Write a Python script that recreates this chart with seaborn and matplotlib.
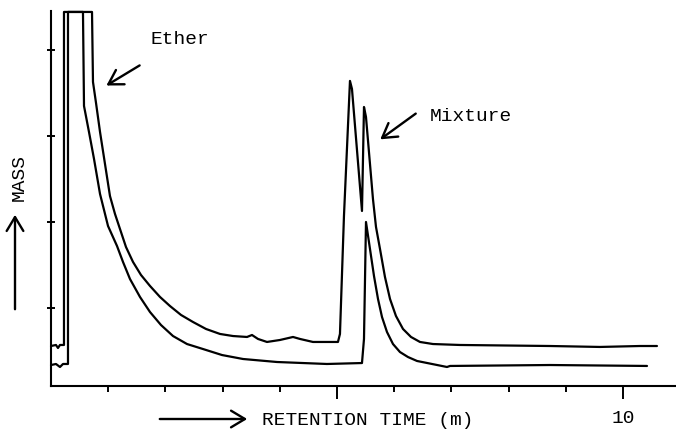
import numpy as np
import pandas as pd
import matplotlib
matplotlib.use("Agg")
import matplotlib.pyplot as plt
from matplotlib.ticker import FixedLocator
import seaborn as sns

# Chromatogram traces (time in minutes, mass in arbitrary units)
# upper trace and lower trace; the ether peak tops are clipped by the recorder
upper_time = [0.000, 0.087, 0.122, 0.157, 0.227, 0.227, 0.717, 0.734, 0.787, 0.857,
              0.944, 1.031, 1.119, 1.206, 1.311, 1.434, 1.573, 1.731, 1.906, 2.080,
              2.273, 2.483, 2.710, 2.955, 3.182, 3.427, 3.514, 3.619, 3.776, 4.003,
              4.231, 4.353, 4.580, 5.017, 5.052, 5.122, 5.227, 5.262, 5.437, 5.472,
              5.507, 5.629, 5.682, 5.752, 5.839, 5.927, 6.031, 6.154, 6.294, 6.451,
              6.678, 7.150, 8.724, 9.598, 10.297, 10.594]
upper_mass = [0.558, 0.570, 0.535, 0.570, 0.570, 4.442, 4.442, 3.628, 3.384, 3.047,
              2.674, 2.302, 2.093, 1.919, 1.709, 1.535, 1.384, 1.256, 1.128, 1.023,
              0.919, 0.837, 0.756, 0.698, 0.674, 0.663, 0.686, 0.640, 0.605, 0.628,
              0.663, 0.640, 0.605, 0.605, 0.698, 2.070, 3.640, 3.547, 2.128, 3.337,
              3.221, 2.267, 1.942, 1.686, 1.360, 1.105, 0.907, 0.756, 0.663, 0.605,
              0.581, 0.570, 0.558, 0.547, 0.558, 0.558]

lower_time = [0.000, 0.087, 0.157, 0.210, 0.297, 0.297, 0.559, 0.577, 0.664, 0.752,
              0.857, 0.997, 1.154, 1.259, 1.381, 1.556, 1.731, 1.923, 2.133, 2.378,
              2.657, 2.990, 3.357, 3.951, 4.825, 5.437, 5.472, 5.507, 5.577, 5.647,
              5.717, 5.787, 5.874, 5.979, 6.101, 6.241, 6.399, 6.923, 6.976, 8.724,
              10.420]
lower_mass = [0.337, 0.349, 0.314, 0.349, 0.349, 4.442, 4.442, 3.349, 3.047, 2.733,
              2.326, 1.953, 1.721, 1.535, 1.337, 1.128, 0.953, 0.802, 0.674, 0.581,
              0.523, 0.453, 0.407, 0.372, 0.349, 0.360, 0.640, 2.000, 1.686, 1.372,
              1.105, 0.895, 0.721, 0.581, 0.488, 0.430, 0.384, 0.314, 0.326, 0.337,
              0.326]

minor_ticks = [1, 2, 3, 4, 6, 7, 8, 9]
major_ticks = [5, 10]
major_labels = ["", "10"]
mass_ticks = [1, 2, 3, 4]

sns.set_theme(style="ticks")
plt.rcParams['font.family'] = ['Liberation Mono', 'DejaVu Sans Mono']
plt.rcParams['text.color'] = 'black'

fig = plt.figure(figsize=(6.76, 4.31), dpi=100)
ax = fig.add_axes([51 / 676, 44 / 431, 625 / 676, 375 / 431])

upper = pd.DataFrame({'time': upper_time, 'mass': upper_mass})
lower = pd.DataFrame({'time': lower_time, 'mass': lower_mass})
for df in (upper, lower):
    sns.lineplot(data=df, x='time', y='mass', sort=False, estimator=None,
                 color='black', lw=1.6, ax=ax, clip_on=False)

ax.set_xlim(0, 10.927)
ax.set_ylim(0.093, 4.453)
sns.despine(ax=ax)
for side in ('left', 'bottom'):
    ax.spines[side].set_linewidth(1.5)
    ax.spines[side].set_color('black')

ax.xaxis.set_major_locator(FixedLocator(major_ticks))
ax.xaxis.set_minor_locator(FixedLocator(minor_ticks))
ax.set_xticklabels(major_labels)
ax.tick_params(axis='x', which='major', direction='out', length=9.5, width=1.4,
               pad=7, labelsize=14, colors='black')
ax.tick_params(axis='x', which='minor', direction='out', length=4.3, width=1.4,
               colors='black')
ax.set_yticks(mass_ticks)
ax.set_yticklabels([])
ax.tick_params(axis='y', direction='inout', length=6, width=1.4, colors='black')
ax.set_xlabel('')
ax.set_ylabel('')

arrow = dict(arrowstyle='->,head_length=0.5,head_width=0.3', lw=1.7,
             color='black', mutation_scale=20)

# peak annotations
ax.annotate('', xy=(0.927, 3.570), xytext=(1.591, 3.837), arrowprops=arrow)
ax.text(1.731, 4.128, 'Ether', ha='left', va='center', fontsize=14)
ax.annotate('', xy=(5.717, 2.942), xytext=(6.416, 3.279), arrowprops=arrow)
ax.text(6.626, 3.233, 'Mixture', ha='left', va='center', fontsize=14)

# axis captions with arrows
fig.text(262 / 676, 1 - 421 / 431, 'RETENTION TIME (m)', ha='left', va='center', fontsize=14)
ax.annotate('', xy=(250 / 676, 1 - 420 / 431), xytext=(157 / 676, 1 - 420 / 431),
            xycoords='figure fraction', textcoords='figure fraction',
            arrowprops=arrow, annotation_clip=False)
fig.text(19 / 676, 1 - 178 / 431, 'MASS', rotation=90, ha='center', va='center', fontsize=14)
ax.annotate('', xy=(15 / 676, 1 - 213 / 431), xytext=(15 / 676, 1 - 313 / 431),
            xycoords='figure fraction', textcoords='figure fraction',
            arrowprops=arrow, annotation_clip=False)

fig.savefig('out.png', dpi=100, facecolor='white')
